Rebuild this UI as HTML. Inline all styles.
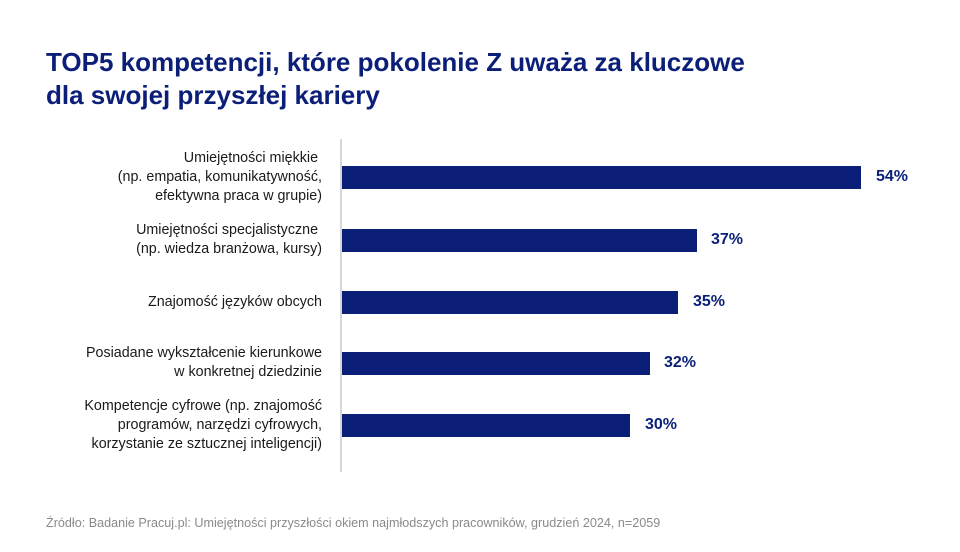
<!DOCTYPE html>
<html><head><meta charset="utf-8"><style>
body{margin:0;width:960px;height:552px;background:#fff;position:relative;overflow:hidden;font-family:"Liberation Sans",sans-serif}
.t{position:absolute;left:46px;top:46px;font-size:26px;font-weight:bold;color:#0b1f78;line-height:33px;letter-spacing:0px}
.ax{position:absolute;left:340px;top:139px;width:2px;height:333px;background:#d6d6d6}
.bar{position:absolute;left:342px;height:23px;background:#0b1f78}
.v{position:absolute;font-size:16px;font-weight:bold;color:#0b1f78}
.l{position:absolute;right:638px;text-align:right;font-size:14.3px;line-height:19px;color:#1a1a1a;white-space:nowrap}
.s{position:absolute;left:46px;top:516px;font-size:12.6px;color:#8a8a8a}
</style></head><body>
<div class="t">TOP5 kompetencji, które pokolenie Z uważa za kluczowe<br>dla swojej przyszłej kariery</div>
<div class="ax"></div>
<div class="bar" style="top:166px;width:519px"></div><div class="v" style="left:876px;top:168px">54%</div>
<div class="bar" style="top:229px;width:355px"></div><div class="v" style="left:711px;top:231px">37%</div>
<div class="bar" style="top:291px;width:336px"></div><div class="v" style="left:693px;top:293px">35%</div>
<div class="bar" style="top:352px;width:308px"></div><div class="v" style="left:664px;top:354px">32%</div>
<div class="bar" style="top:414px;width:288px"></div><div class="v" style="left:645px;top:416px">30%</div>
<div class="l" style="top:149px">Umiejętności miękkie&nbsp;<br>(np. empatia, komunikatywność,<br>efektywna praca w grupie)</div>
<div class="l" style="top:221px">Umiejętności specjalistyczne&nbsp;<br>(np. wiedza branżowa, kursy)</div>
<div class="l" style="top:293px">Znajomość języków obcych</div>
<div class="l" style="top:344px">Posiadane wykształcenie kierunkowe<br>w konkretnej dziedzinie</div>
<div class="l" style="top:397px">Kompetencje cyfrowe (np. znajomość<br>programów, narzędzi cyfrowych,<br>korzystanie ze sztucznej inteligencji)</div>
<div class="s">Źródło: Badanie Pracuj.pl: Umiejętności przyszłości okiem najmłodszych pracowników, grudzień 2024, n=2059</div>
</body></html>
